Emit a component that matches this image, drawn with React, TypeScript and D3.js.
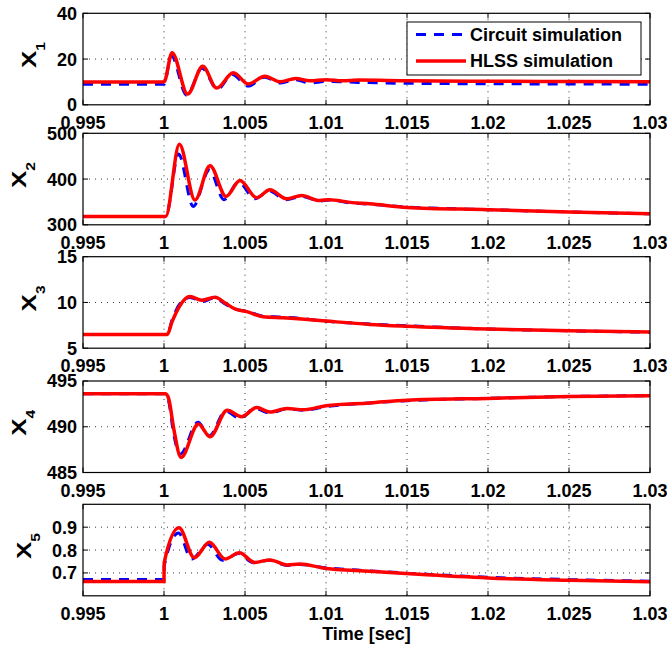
import React, { useRef, useEffect } from "react";
import * as d3 from "d3";

// x axis
const xTicks = [0.995, 1, 1.005, 1.01, 1.015, 1.02, 1.025, 1.03];
const xLabelText = "Time [sec]";
const legendLabels = ["Circuit simulation", "HLSS simulation"];

// X1
const x1Domain = [0, 40];
const x1Ticks = [0, 20, 40];
const x1CircuitT = [0.995, 1.0, 1.00045, 1.0014, 1.00235, 1.0033, 1.0042, 1.0052, 1.0062, 1.0072, 1.0081, 1.009, 1.01, 1.012, 1.015, 1.02, 1.025, 1.03];
const x1Circuit = [9, 9, 21.5, 4.2, 16, 6.8, 13.2, 8.2, 12, 9.5, 11, 9.6, 10.2, 9.8, 9.4, 9.2, 9.1, 9.0];
const x1HlssT = [0.995, 1.0, 1.0005, 1.00146, 1.00239, 1.00325, 1.00428, 1.0052, 1.00623, 1.00716, 1.00813, 1.009, 1.01, 1.011, 1.012, 1.015, 1.02, 1.025, 1.03];
const x1Hlss = [10, 10, 22.8, 4.7, 16.9, 7.3, 14, 9.1, 12.5, 10.1, 11.5, 10.5, 11.0, 10.5, 10.8, 10.5, 10.3, 10.2, 10.1];

// X2
const x2Domain = [300, 500];
const x2Ticks = [300, 400, 500];
const x2CircuitT = [0.995, 1.0001, 1.0009, 1.0018, 1.0028, 1.0037, 1.0046, 1.0056, 1.0065, 1.0075, 1.0085, 1.0096, 1.0102, 1.0115, 1.0127, 1.015, 1.02, 1.025, 1.03];
const x2Circuit = [318, 318, 455, 340, 420, 355, 393, 357, 374, 355, 362, 352, 354, 348, 345, 339, 333, 328, 324];
const x2HlssT = [0.995, 1.0001, 1.00095, 1.00191, 1.00284, 1.00383, 1.00469, 1.00572, 1.00654, 1.00757, 1.0085, 1.0096, 1.0102, 1.0115, 1.0127, 1.015, 1.02, 1.025, 1.03];
const x2Hlss = [318, 318, 476, 354, 429, 362, 397, 359, 376.5, 357, 364, 353, 355, 349, 346, 338, 333, 328, 324];

// X3
const x3Domain = [5, 15];
const x3Ticks = [5, 10, 15];
const x3CircuitT = [0.995, 1.0002, 1.0005, 1.001, 1.0016, 1.0024, 1.0031, 1.0038, 1.0044, 1.0051, 1.0061, 1.0072, 1.0085, 1.01, 1.0127, 1.015, 1.02, 1.025, 1.03];
const x3Circuit = [6.5, 6.5, 8.1, 9.9, 10.55, 10.1, 10.5, 9.8, 9.25, 9.05, 8.5, 8.4, 8.25, 7.95, 7.65, 7.45, 7.1, 6.9, 6.75];
const x3HlssT = [0.995, 1.0002, 1.0005, 1.001, 1.0016, 1.00233, 1.00315, 1.0038, 1.00438, 1.0051, 1.00613, 1.00736, 1.0085, 1.01, 1.0127, 1.015, 1.02, 1.025, 1.03];
const x3Hlss = [6.5, 6.5, 7.9, 9.7, 10.64, 10.24, 10.57, 9.9, 9.29, 9.0, 8.44, 8.33, 8.19, 7.97, 7.6, 7.4, 7.1, 6.9, 6.76];

// X4
const x4Domain = [485, 495];
const x4Ticks = [485, 490, 495];
const x4CircuitT = [0.995, 1.0001, 1.0003, 1.0006, 1.001, 1.0021, 1.0028, 1.0038, 1.0047, 1.0056, 1.0065, 1.0076, 1.0086, 1.01, 1.0127, 1.015, 1.02, 1.025, 1.03];
const x4Circuit = [493.6, 493.6, 492.7, 489.2, 487.0, 490.5, 489.0, 491.7, 490.9, 492.0, 491.5, 491.95, 491.8, 492.2, 492.6, 492.85, 493.1, 493.3, 493.4];
const x4HlssT = [0.995, 1.0001, 1.0003, 1.0006, 1.00105, 1.00212, 1.00284, 1.0039, 1.00479, 1.00572, 1.00654, 1.0076, 1.0086, 1.01, 1.0127, 1.015, 1.02, 1.025, 1.03];
const x4Hlss = [493.6, 493.6, 493.0, 489.8, 486.65, 490.3, 488.9, 491.8, 491.1, 492.1, 491.6, 492.0, 491.85, 492.3, 492.6, 492.9, 493.1, 493.3, 493.4];

// X5
const x5Domain = [0.6, 1.0];
const x5Ticks = [0.7, 0.8, 0.9];
const x5CircuitT = [0.995, 1.0, 1.00001, 1.0009, 1.0017, 1.0027, 1.0036, 1.0046, 1.0055, 1.0065, 1.0076, 1.0084, 1.0098, 1.0127, 1.015, 1.02, 1.025, 1.03];
const x5Circuit = [0.671, 0.671, 0.73, 0.875, 0.76, 0.825, 0.755, 0.785, 0.745, 0.755, 0.733, 0.737, 0.724, 0.709, 0.699, 0.681, 0.671, 0.664];
const x5HlssT = [0.995, 1.0, 1.00001, 1.00093, 1.00187, 1.0028, 1.00377, 1.00465, 1.0056, 1.00654, 1.0076, 1.0084, 1.0098, 1.0127, 1.015, 1.02, 1.025, 1.03];
const x5Hlss = [0.663, 0.663, 0.744, 0.897, 0.766, 0.834, 0.761, 0.788, 0.746, 0.757, 0.735, 0.739, 0.722, 0.707, 0.697, 0.678, 0.668, 0.661];

const panels = [
	{ name: "1", domain: x1Domain, ticks: x1Ticks, ct: x1CircuitT, cv: x1Circuit, ht: x1HlssT, hv: x1Hlss },
	{ name: "2", domain: x2Domain, ticks: x2Ticks, ct: x2CircuitT, cv: x2Circuit, ht: x2HlssT, hv: x2Hlss },
	{ name: "3", domain: x3Domain, ticks: x3Ticks, ct: x3CircuitT, cv: x3Circuit, ht: x3HlssT, hv: x3Hlss },
	{ name: "4", domain: x4Domain, ticks: x4Ticks, ct: x4CircuitT, cv: x4Circuit, ht: x4HlssT, hv: x4Hlss },
	{ name: "5", domain: x5Domain, ticks: x5Ticks, ct: x5CircuitT, cv: x5Circuit, ht: x5HlssT, hv: x5Hlss },
];

const FONT = "'Liberation Sans', Arial, Helvetica, sans-serif";

const App = () => {
	const svgRef = useRef(null);
	const width = 667;
	const height = 649;

	useEffect(() => {
		const svg = d3.select(svgRef.current);
		svg.selectAll("*").remove();

		const left = 83;
		const right = 650;
		const tops = [13.3, 133.3, 256.7, 381, 504.3];
		const ph = 91.5;
		const tickLen = 5;

		const x = d3.scaleLinear().domain([0.995, 1.03]).range([left, right]);

		// rough width of a bold label in 18px
		const textW = (s: string) => s.split("").reduce((a, c) => a + (c === "." ? 0.278 : 0.556), 0) * 18;

		panels.forEach((p, i) => {
			const top = tops[i];
			const bottom = top + ph;
			const y = d3.scaleLinear().domain(p.domain).range([bottom, top]);
			const g = svg.append("g");

			g.append("rect")
				.attr("x", left).attr("y", top)
				.attr("width", right - left).attr("height", ph)
				.attr("fill", "#fff");

			// grid
			g.selectAll(".vg")
				.data(xTicks.slice(1, -1))
				.enter().append("line")
				.attr("x1", d => x(d)).attr("x2", d => x(d))
				.attr("y1", top).attr("y2", bottom)
				.attr("stroke", "#000").attr("stroke-width", 0.8)
				.attr("stroke-dasharray", "1,5");
			g.selectAll(".hg")
				.data(p.ticks.filter(t => t > p.domain[0] && t < p.domain[1]))
				.enter().append("line")
				.attr("x1", left).attr("x2", right)
				.attr("y1", d => y(d)).attr("y2", d => y(d))
				.attr("stroke", "#000").attr("stroke-width", 0.8)
				.attr("stroke-dasharray", "1,5");

			// curves
			const clipId = `clip${i}`;
			g.append("clipPath").attr("id", clipId)
				.append("rect")
				.attr("x", left).attr("y", top)
				.attr("width", right - left).attr("height", ph);

			const line = d3.line<[number, number]>()
				.x(d => x(d[0]))
				.y(d => y(d[1]))
				.curve(d3.curveMonotoneX);

			const cData = p.ct.map((t, k) => [t, p.cv[k]] as [number, number]);
			const hData = p.ht.map((t, k) => [t, p.hv[k]] as [number, number]);

			g.append("path")
				.attr("d", line(cData))
				.attr("clip-path", `url(#${clipId})`)
				.attr("fill", "none")
				.attr("stroke", "#0000ff")
				.attr("stroke-width", 3)
				.attr("stroke-dasharray", "10,8");
			g.append("path")
				.attr("d", line(hData))
				.attr("clip-path", `url(#${clipId})`)
				.attr("fill", "none")
				.attr("stroke", "#ff0000")
				.attr("stroke-width", 3.5);

			// tick marks
			g.selectAll(".xt")
				.data(xTicks)
				.enter().append("path")
				.attr("d", d => `M${x(d)},${bottom}v${-tickLen}M${x(d)},${top}v${tickLen}`)
				.attr("stroke", "#000").attr("stroke-width", 1);
			g.selectAll(".yt")
				.data(p.ticks)
				.enter().append("path")
				.attr("d", d => `M${left},${y(d)}h${tickLen}M${right},${y(d)}h${-tickLen}`)
				.attr("stroke", "#000").attr("stroke-width", 1);

			// box
			g.append("rect")
				.attr("x", left).attr("y", top)
				.attr("width", right - left).attr("height", ph)
				.attr("fill", "none")
				.attr("stroke", "#000").attr("stroke-width", 1.2);

			// tick labels
			g.selectAll(".xl")
				.data(xTicks)
				.enter().append("text")
				.attr("x", d => x(d))
				.attr("y", bottom + 24)
				.attr("text-anchor", "middle")
				.attr("font-family", FONT).attr("font-weight", "bold").attr("font-size", 18)
				.text(d => String(d));
			g.selectAll(".yl")
				.data(p.ticks)
				.enter().append("text")
				.attr("x", 77)
				.attr("y", d => y(d))
				.attr("dy", "0.36em")
				.attr("text-anchor", "end")
				.attr("font-family", FONT).attr("font-weight", "bold").attr("font-size", 18)
				.text(d => String(d));

			// y label X_n
			const maxW = d3.max(p.ticks, t => textW(String(t))) as number;
			const lx = 77 - maxW - 21;
			const cy = top + ph / 2 + 9;
			const lab = g.append("text")
				.attr("transform", `translate(${lx},${cy}) rotate(-90) scale(1.3,1)`)
				.attr("font-family", FONT).attr("font-weight", "bold").attr("font-size", 20);
			lab.append("tspan").text("X");
			lab.append("tspan").attr("font-size", 12).attr("dy", 9).text(p.name);
		});

		// x axis title
		svg.append("text")
			.attr("x", (left + right) / 2)
			.attr("y", 640)
			.attr("text-anchor", "middle")
			.attr("font-family", FONT).attr("font-weight", "bold").attr("font-size", 18)
			.text(xLabelText);

		// legend
		const lg = svg.append("g");
		lg.append("rect")
			.attr("x", 407).attr("y", 22)
			.attr("width", 234).attr("height", 53)
			.attr("fill", "#fff").attr("stroke", "#000").attr("stroke-width", 1);
		const styles = [
			{ stroke: "#0000ff", dash: "10,8", w: 3 },
			{ stroke: "#ff0000", dash: null, w: 3.5 },
		];
		legendLabels.forEach((label, k) => {
			const ly = 34.5 + k * 26.5;
			lg.append("line")
				.attr("x1", 416).attr("x2", 466)
				.attr("y1", ly).attr("y2", ly)
				.attr("stroke", styles[k].stroke)
				.attr("stroke-width", styles[k].w)
				.attr("stroke-dasharray", styles[k].dash);
			lg.append("text")
				.attr("x", 470).attr("y", ly)
				.attr("dy", "0.36em")
				.attr("font-family", FONT).attr("font-weight", "bold").attr("font-size", 18)
				.text(label);
		});
	});

	return (
		<div style={{ position: "absolute", left: 0, top: 0 }}>
			<svg ref={svgRef} width={width} height={height} style={{ display: "block", background: "#fff" }}>
			</svg>
		</div>
	);
};

export default App;
